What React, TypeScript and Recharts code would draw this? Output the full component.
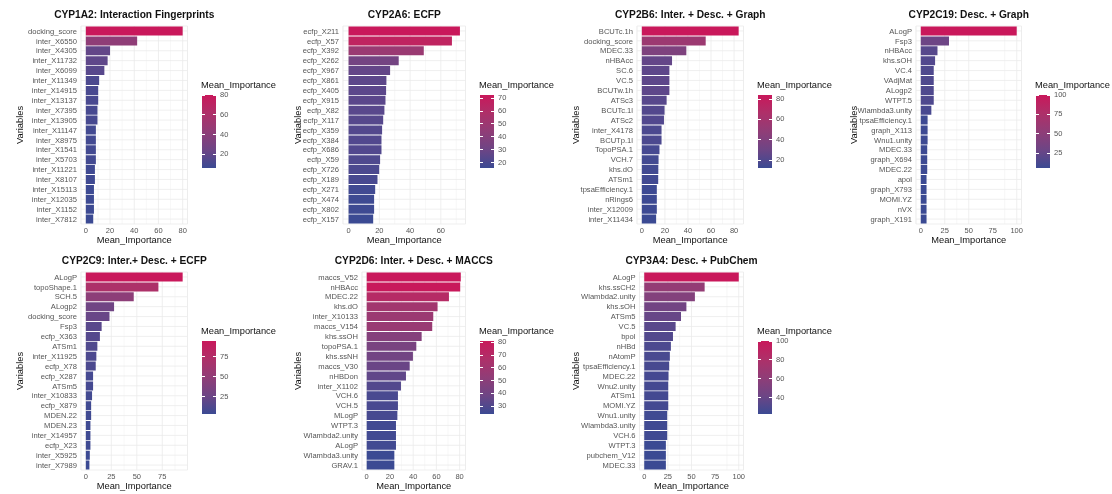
import { Bar, BarChart, CartesianGrid, Cell, XAxis, YAxis } from 'recharts';

// feature importance per isoform, sorted high -> low (top bar first)
const cyp1a2Vars = [
  'docking_score', 'inter_X6550', 'inter_X4305', 'inter_X11732', 'inter_X6099',
  'inter_X11349', 'inter_X14915', 'inter_X13137', 'inter_X7395', 'inter_X13905',
  'inter_X11147', 'inter_X8975', 'inter_X1541', 'inter_X5703', 'inter_X11221',
  'inter_X8107', 'inter_X15113', 'inter_X12035', 'inter_X1152', 'inter_X7812',
];
const cyp1a2Imp = [80, 42.4, 20, 18, 15.3, 11, 10.2, 10.2, 9.6, 9.6, 8.3, 8.3, 8.3, 8.3, 7.5, 7.5, 6.7, 6.7, 6.7, 6.1];

const cyp2a6Vars = [
  'ecfp_X211', 'ecfp_X57', 'ecfp_X392', 'ecfp_X262', 'ecfp_X967',
  'ecfp_X861', 'ecfp_X405', 'ecfp_X915', 'ecfp_X82', 'ecfp_X117',
  'ecfp_X359', 'ecfp_X384', 'ecfp_X686', 'ecfp_X59', 'ecfp_X726',
  'ecfp_X189', 'ecfp_X271', 'ecfp_X474', 'ecfp_X802', 'ecfp_X157',
];
const cyp2a6Imp = [72.4, 67.2, 48.9, 32.6, 27, 24.6, 24.4, 24, 23.3, 22.5, 21.8, 21.4, 21.4, 20.5, 19.9, 18.8, 17.3, 16.6, 16.6, 16];

const cyp2b6Vars = [
  'BCUTc.1h', 'docking_score', 'MDEC.33', 'nHBAcc', 'SC.6',
  'VC.5', 'BCUTw.1h', 'ATSc3', 'BCUTc.1l', 'ATSc2',
  'inter_X4178', 'BCUTp.1l', 'TopoPSA.1', 'VCH.7', 'khs.dO',
  'ATSm1', 'tpsaEfficiency.1', 'nRings6', 'inter_X12009', 'inter_X11434',
];
const cyp2b6Imp = [84, 55.4, 38.6, 26.2, 23.9, 23.9, 23.9, 21.5, 19.7, 19.2, 17.1, 17.1, 15.3, 14.5, 14.3, 14.2, 13, 13, 13, 12.4];

const cyp2c19Vars = [
  'ALogP', 'Fsp3', 'nHBAcc', 'khs.sOH', 'VC.4',
  'VAdjMat', 'ALogp2', 'WTPT.5', 'Wlambda3.unity', 'tpsaEfficiency.1',
  'graph_X113', 'Wnu1.unity', 'MDEC.33', 'graph_X694', 'MDEC.22',
  'apol', 'graph_X793', 'MOMI.YZ', 'nVX', 'graph_X191',
];
const cyp2c19Imp = [100, 29.4, 17.4, 14.9, 13.5, 13.5, 13.5, 13.5, 11, 7.1, 7.1, 7.1, 6.7, 6.7, 6.7, 6, 6, 6, 6, 6];

const cyp2c9Vars = [
  'ALogP', 'topoShape.1', 'SCH.5', 'ALogp2', 'docking_score',
  'Fsp3', 'ecfp_X363', 'ATSm1', 'inter_X11925', 'ecfp_X78',
  'ecfp_X287', 'ATSm5', 'inter_X10833', 'ecfp_X879', 'MDEN.22',
  'MDEN.23', 'inter_X14957', 'ecfp_X23', 'inter_X5925', 'inter_X7989',
];
const cyp2c9Imp = [95, 71.2, 47, 27.7, 23.2, 15.5, 13.8, 11.3, 10.3, 9.7, 7.1, 7.1, 6.1, 5.2, 5.2, 4.5, 4.5, 4.5, 3.9, 3.5];

const cyp2d6Vars = [
  'maccs_V52', 'nHBAcc', 'MDEC.22', 'khs.dO', 'inter_X10133',
  'maccs_V154', 'khs.ssOH', 'topoPSA.1', 'khs.ssNH', 'maccs_V30',
  'nHBDon', 'inter_X1102', 'VCH.6', 'VCH.5', 'MLogP',
  'WTPT.3', 'Wlambda2.unity', 'ALogP', 'Wlambda3.unity', 'GRAV.1',
];
const cyp2d6Imp = [81, 80.5, 70.8, 61, 57.3, 56.4, 47.3, 42.7, 39.8, 37, 33.8, 29.5, 26.9, 26.9, 26.4, 25.2, 25.2, 25.2, 23.8, 23.8];

const cyp3a4Vars = [
  'ALogP', 'khs.ssCH2', 'Wlambda2.unity', 'khs.sOH', 'ATSm5',
  'VC.5', 'bpol', 'nHBd', 'nAtomP', 'tpsaEfficiency.1',
  'MDEC.22', 'Wnu2.unity', 'ATSm1', 'MOMI.YZ', 'Wnu1.unity',
  'Wlambda3.unity', 'VCH.6', 'WTPT.3', 'pubchem_V12', 'MDEC.33',
];
const cyp3a4Imp = [100, 63.9, 53.6, 44.6, 38.9, 33.2, 30.4, 28.2, 27.1, 26.4, 25.7, 25.4, 25.4, 25.4, 24.3, 24.3, 24.3, 22.9, 22.9, 22.9];

const ticks20 = [0, 20, 40, 60, 80];
const ticks25 = [0, 25, 50, 75, 100];
const minor20 = [10, 30, 50, 70];
const minor25 = [12.5, 37.5, 62.5, 87.5];

const LOW = '#3B4A93';
const HIGH = '#C9185B';
const FONT = '"Liberation Sans", Arial, Helvetica, sans-serif';

const W = 278;
const H = 246;
const PLOT_TOP = 26;
const PLOT_BOTTOM = 224;
const PLOT_RIGHT = 187.5;
const BAR_TOP = 95;
const BAR_H = 73;

// ggplot-style gradient: interpolate in CIE Lab
const hexToRgb = (h: string) => [1, 3, 5].map((i) => parseInt(h.slice(i, i + 2), 16));
const toLab = ([r, g, b]: number[]) => {
  const lin = (c: number) => {
    c /= 255;
    return c <= 0.04045 ? c / 12.92 : Math.pow((c + 0.055) / 1.055, 2.4);
  };
  const R = lin(r), G = lin(g), B = lin(b);
  const X = (0.4124 * R + 0.3576 * G + 0.1805 * B) / 0.95047;
  const Y = 0.2126 * R + 0.7152 * G + 0.0722 * B;
  const Z = (0.0193 * R + 0.1192 * G + 0.9505 * B) / 1.08883;
  const f = (t: number) => (t > 0.008856 ? Math.cbrt(t) : 7.787 * t + 16 / 116);
  return [116 * f(Y) - 16, 500 * (f(X) - f(Y)), 200 * (f(Y) - f(Z))];
};
const fromLab = ([L, a, bb]: number[]) => {
  const fy = (L + 16) / 116;
  const fx = fy + a / 500;
  const fz = fy - bb / 200;
  const inv = (t: number) => (t ** 3 > 0.008856 ? t ** 3 : (t - 16 / 116) / 7.787);
  const X = inv(fx) * 0.95047, Y = inv(fy), Z = inv(fz) * 1.08883;
  const R = 3.2406 * X - 1.5372 * Y - 0.4986 * Z;
  const G = -0.9689 * X + 1.8758 * Y + 0.0415 * Z;
  const B = 0.0557 * X - 0.204 * Y + 1.057 * Z;
  const g = (c: number) => {
    c = c <= 0.0031308 ? 12.92 * c : 1.055 * Math.pow(c, 1 / 2.4) - 0.055;
    return Math.round(Math.min(1, Math.max(0, c)) * 255);
  };
  return `rgb(${g(R)},${g(G)},${g(B)})`;
};
const lowLab = toLab(hexToRgb(LOW));
const highLab = toLab(hexToRgb(HIGH));
const gradient = (t: number) => fromLab(lowLab.map((v, i) => v + (highLab[i] - v) * t));

interface PanelProps {
  title: string;
  vars: string[];
  values: number[];
  ticks: number[];
  minor: number[];
  legendTicks: number[];
  plotLeft: number;
  left: number;
  top: number;
}

const Panel = (props: PanelProps) => {
  const { title, vars, values, ticks, minor, legendTicks, plotLeft, left, top } = props;
  const data = vars.map((name, i) => ({ name, value: values[i] }));
  const max = Math.max(...values);
  const min = Math.min(...values);
  const pad = 0.05 * max;
  const mid = (plotLeft + PLOT_RIGHT) / 2;
  const stops = [0, 0.25, 0.5, 0.75, 1].map((t) => `${gradient(1 - t)} ${t * 100}%`).join(', ');
  const legendY = (v: number) => BAR_TOP + ((max - v) / (max - min)) * BAR_H;

  return (
    <div style={{ position: 'absolute', left, top, width: W, height: H, fontFamily: FONT, willChange: 'transform' }}>
      <div
        style={{
          position: 'absolute', top: 9, left: mid, transform: 'translateX(-50%)',
          fontSize: 10.2, fontWeight: 'bold', color: '#111', lineHeight: '11px', whiteSpace: 'nowrap',
        }}
      >
        {title}
      </div>
      <BarChart
        width={W}
        height={H}
        layout="vertical"
        data={data}
        margin={{ top: PLOT_TOP, right: W - PLOT_RIGHT, bottom: H - PLOT_BOTTOM - 10, left: 0 }}
        barCategoryGap="5%"
      >
        <CartesianGrid xAxisId="minor" horizontal={false} stroke="#F2F2F2" strokeWidth={0.6} />
        <CartesianGrid stroke="#EBEBEB" strokeWidth={0.8} />
        <XAxis
          type="number"
          dataKey="value"
          domain={[-pad, max + pad]}
          ticks={ticks}
          allowDataOverflow
          axisLine={false}
          tickLine={false}
          tickSize={3}
          tickMargin={1}
          height={10}
          tick={{ fontSize: 7.5, fill: '#555', fontFamily: FONT }}
        />
        <XAxis xAxisId="minor" type="number" dataKey="value" domain={[-pad, max + pad]} ticks={minor} allowDataOverflow hide />
        <YAxis
          type="category"
          dataKey="name"
          width={plotLeft}
          interval={0}
          axisLine={false}
          tickLine={false}
          tickSize={2}
          tickMargin={2}
          tick={{ fontSize: 7.6, fill: '#555', fontFamily: FONT }}
        />
        <Bar dataKey="value" isAnimationActive={false}>
          {data.map((d) => (
            <Cell key={d.name} fill={gradient((d.value - min) / (max - min))} />
          ))}
        </Bar>
      </BarChart>
      <div
        style={{
          position: 'absolute', top: 235, left: mid, transform: 'translateX(-50%)',
          fontSize: 9.3, color: '#111', lineHeight: '11px', whiteSpace: 'nowrap',
        }}
      >
        Mean_Importance
      </div>
      <div
        style={{
          position: 'absolute', left: 20, top: 125, fontSize: 9.3, color: '#111', lineHeight: '11px',
          transform: 'translate(-50%, -50%) rotate(-90deg)', whiteSpace: 'nowrap',
        }}
      >
        Variables
      </div>
      <div style={{ position: 'absolute', left: 201, top: 80, fontSize: 9.3, color: '#111', lineHeight: '11px', whiteSpace: 'nowrap' }}>
        Mean_Importance
      </div>
      <div
        style={{
          position: 'absolute', left: 202, top: BAR_TOP, width: 14, height: BAR_H,
          background: `linear-gradient(to bottom, ${stops})`,
        }}
      />
      {legendTicks.map((v) => (
        <div key={v}>
          <div style={{ position: 'absolute', left: 202, top: legendY(v) - 0.5, width: 3, height: 1, background: '#fff' }} />
          <div style={{ position: 'absolute', left: 213, top: legendY(v) - 0.5, width: 3, height: 1, background: '#fff' }} />
          <div style={{ position: 'absolute', left: 220, top: legendY(v) - 5, fontSize: 7.5, color: '#555', lineHeight: '10px' }}>
            {v}
          </div>
        </div>
      ))}
    </div>
  );
};

export default function App() {
  return (
    <div style={{ position: 'absolute', left: 0, top: 0, width: 1112, height: 494, background: '#fff', overflow: 'hidden' }}>
      <Panel title="CYP1A2: Interaction Fingerprints" vars={cyp1a2Vars} values={cyp1a2Imp} ticks={ticks20} minor={minor20} legendTicks={[20, 40, 60, 80]} plotLeft={81} left={0} top={0} />
      <Panel title="CYP2A6: ECFP" vars={cyp2a6Vars} values={cyp2a6Imp} ticks={[0, 20, 40, 60]} minor={minor20} legendTicks={[20, 30, 40, 50, 60, 70]} plotLeft={65} left={278} top={0} />
      <Panel title="CYP2B6: Inter. + Desc. + Graph" vars={cyp2b6Vars} values={cyp2b6Imp} ticks={ticks20} minor={minor20} legendTicks={[20, 40, 60, 80]} plotLeft={81} left={556} top={0} />
      <Panel title="CYP2C19: Desc. + Graph" vars={cyp2c19Vars} values={cyp2c19Imp} ticks={ticks25} minor={minor25} legendTicks={[25, 50, 75, 100]} plotLeft={82} left={834} top={0} />
      <Panel title="CYP2C9: Inter.+ Desc. + ECFP" vars={cyp2c9Vars} values={cyp2c9Imp} ticks={[0, 25, 50, 75]} minor={minor25} legendTicks={[25, 50, 75]} plotLeft={81} left={0} top={246} />
      <Panel title="CYP2D6: Inter. + Desc. + MACCS" vars={cyp2d6Vars} values={cyp2d6Imp} ticks={ticks20} minor={minor20} legendTicks={[30, 40, 50, 60, 70, 80]} plotLeft={84} left={278} top={246} />
      <Panel title="CYP3A4: Desc. + PubChem" vars={cyp3a4Vars} values={cyp3a4Imp} ticks={ticks25} minor={minor25} legendTicks={[40, 60, 80, 100]} plotLeft={83.5} left={556} top={246} />
    </div>
  );
}
